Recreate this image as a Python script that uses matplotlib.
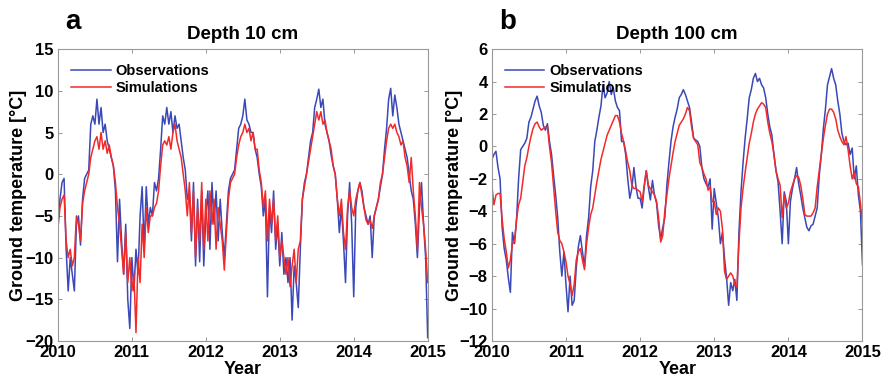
import numpy as np
import matplotlib
matplotlib.use("Agg")
import matplotlib.pyplot as plt

plt.rcParams['font.family'] = ['Liberation Sans', 'DejaVu Sans']
plt.rcParams['font.weight'] = 'bold'

years = [2010, 2011, 2012, 2013, 2014]

# depth 10 cm, ~10-day samples
obs10 = [
    [-6, -3, -1, -0.5, -9, -14, -10, -12, -14, -6, -5, -8.5, -3, -0.5, 0, 0.5, 6, 7,
     6, 9, 6, 8, 5, 6, 4, 3, 2, 1, -2, -10.5, -3, -8, -12, -6, -15, -18.5],
    [-10, -14, -9, -12, -5, -1.5, -9, -1.5, -6, -4, -5, -1, -2, -0.5, 3, 7, 6, 8,
     6, 7.5, 5, 7, 5.5, 6, 4, 2, 0.5, -3, -2, -8, -1, -11, -3, -10.5, -2, -11],
    [-5, -2, -9, -1, -6, -2, -8, -3, -7, -10, -6, -2, -0.5, 0, 0.5, 3, 5.5, 6,
     7, 9, 6.5, 6, 5, 5, 3, 2, 0, -1.5, -5, -3, -14.7, -4, -7, -2, -9, -6],
    [-11, -7, -12, -10, -13, -10, -17.5, -11, -13, -16, -9, -3, -1, 0, 2, 4, 5, 8,
     9, 10.2, 8, 9, 6, 5, 4, 2.3, 1, 0, -3, -7, -4, -8, -13, -5, -1, -6],
    [-14.7, -4, -2, -1, -2, -4, -5, -6, -5, -10, -5, -4, -3, -1.5, 0, 3, 5.5, 9,
     10.3, 7, 9.5, 8, 6, 5, 4, 3, 2, 0, -2, -3, -6, -10, -4, -1, -6, -10],
]
obs10_end = -19.6
sim10 = [
    [-6.5, -4, -3, -2.5, -8, -10, -9, -11, -10, -5, -6, -8, -3.5, -2, -1, 0, 2, 3,
     4, 4.5, 3, 5, 3, 4, 2.5, 3.5, 2, 1, -1, -4, -6, -9, -12, -7, -13, -10],
    [-14, -12, -19, -10, -13, -6, -10, -4, -7, -5, -5, -4, -3.5, -2, 1, 3.5, 4, 3.5,
     4.5, 3, 5, 6, 4, 3, 2, 0, -2, -5, -1, -7, -2, -10, -4, -8, -1, -9],
    [-3, -8, -2, -6, -3, -9, -4, -6, -8, -11.5, -7, -3, -1, -0.5, 0, 2, 3.5, 4.5,
     5, 6, 5, 5.5, 4, 5, 3, 3, 0.5, -1, -4, -2, -8, -3, -6, -3, -8, -5],
    [-10, -8, -10, -12, -10, -13.5, -11, -9, -13, -9, -8, -3, -1.5, 0, 1.5, 3, 4.5, 6,
     7.5, 6.5, 7.5, 6, 6.5, 5, 4, 3, 1, 0, -3, -5, -3, -7, -9, -4, -2, -4],
    [-5, -3, -2, -1, -2.5, -4, -5.5, -6, -5.5, -6.5, -5, -4, -3, -1, 0, 2, 4, 5.5,
     6, 5.5, 6, 5, 4.5, 3.5, 4, 2, 1, -1, 2, -2, -5, -9, -1, -4, -6, -9],
]
sim10_end = -13

# depth 100 cm
obs100 = [
    [-0.8, -0.5, -0.3, -1.3, -2, -5, -6.3, -7, -8.1, -9, -5.3, -6, -4.5, -2, -0.2, 0, 0.2, 0.5,
     1.5, 1.8, 2.3, 2.8, 3.1, 2.5, 2.1, 1.3, 1, 1.4, 0.3, -0.5, -1.8, -3, -4.4, -6.5, -8, -6.5],
    [-8.5, -10.2, -8, -9.8, -9.5, -7.5, -6.2, -5.5, -6.5, -7.4, -5.5, -4.4, -2.5, -1.5, 0.3, 1, 1.8, 2.5,
     3.8, 3, 3.3, 4, 3.2, 3.6, 2.8, 2.4, 2.2, 0.3, 0.3, -0.5, -2, -3.2, -2.6, -1.3, -2.5, -3.2],
    [-3.2, -3.8, -2.5, -1.5, -2.5, -3.3, -2.1, -3, -3.5, -4.9, -5.7, -5, -4.4, -2.4, -1, 0.3, 1.2, 1.8,
     2.3, 3, 3.2, 3.5, 3.2, 2.8, 2.4, 1.5, 0.5, 0.4, 0.3, 0, -1.3, -2, -2.3, -2.5, -2, -5.1],
    [-2.6, -3.5, -4.4, -6, -5.3, -6.9, -8.1, -9.8, -8.4, -8.9, -8.2, -9.5, -5.3, -2.8, -1, 0.5, 1.7, 3,
     3.5, 4.2, 4.5, 4, 4.2, 3.8, 3.6, 3, 2, 1.2, 0.7, -0.5, -1.5, -2.2, -4, -6, -2.8, -3.4],
    [-6, -3.4, -2.6, -2, -1.3, -2.3, -3, -3.8, -4.4, -5, -5.2, -4.9, -4.8, -4.3, -3.8, -1.8, -0.5, 1.1,
     2.3, 3.8, 4.3, 4.8, 4.2, 3.8, 2.8, 2, 0.8, 0.3, 0.1, 0.2, -0.5, -0.1, -2, -1.2, -3, -4],
]
obs100_end = -7.3
sim100 = [
    [-2.4, -3.6, -3, -2.9, -2.9, -4.5, -5.7, -6.5, -7.5, -7, -6, -5.9, -4.5, -3.6, -3.2, -2.2, -1.2, -0.7,
     0, 0.6, 1.1, 1.4, 1.5, 1.2, 1, 1.1, 1.2, 1.2, 0, -1, -2.5, -4, -5.3, -5.8, -6, -6.5],
    [-7.1, -8, -8.5, -9.2, -8.5, -7, -6.5, -6.3, -7, -7.6, -6, -5, -4.2, -3.8, -3, -2.2, -1.5, -0.8,
     -0.3, 0.2, 0.7, 1, 1.3, 1.6, 1.9, 1.9, 1.5, 0.8, 0.3, -0.3, -1, -1.5, -2.4, -2.6, -2.6, -2.7],
    [-2.8, -3.4, -2.4, -1.5, -2.4, -2.6, -2.8, -3, -3.4, -4.4, -5.9, -5.5, -4, -3, -2, -1.2, -0.4, 0.3,
     0.8, 1.3, 1.5, 1.7, 2, 2.4, 2.2, 1.2, 0.5, 0.3, 0.1, -1, -1.3, -1.7, -2, -2.7, -2.5, -3.4],
    [-3.4, -4.2, -3.8, -4, -5.1, -7.7, -8.2, -8, -7.8, -8, -8.5, -8.7, -6, -3.8, -2.6, -1.6, -0.7, 0.2,
     0.8, 1.5, 2, 2.3, 2.5, 2.7, 2.6, 2.4, 1.5, 0.8, 0.3, -0.5, -1.5, -2, -2.4, -4.4, -3, -3.8],
    [-3.5, -2.8, -2.4, -2, -1.8, -1.9, -2.4, -3.2, -4.2, -4.3, -4.3, -4.3, -4.1, -3.8, -2.5, -1.5, -0.5, 0.5,
     1.3, 2, 2.3, 2.3, 2.1, 1.7, 1, 0.6, 0.3, 0.1, 0.6, -0.2, -1.2, -2, -1.6, -2.3, -2.5, -3.5],
]
sim100_end = -4.8


def series(blocks, end):
    t, v = [], []
    for yr, vals in zip(years, blocks):
        t.extend(yr + np.arange(len(vals)) / len(vals))
        v.extend(vals)
    t.append(2015.0)
    v.append(end)
    return np.array(t), np.array(v)


blue = '#3a48b8'
red = '#f22a2a'

fig = plt.figure(figsize=(8.91, 3.78), dpi=100)
ax1 = fig.add_axes([0.065, 0.098, 0.415, 0.772])
ax2 = fig.add_axes([0.552, 0.098, 0.416, 0.772])

panels = [
    (ax1, obs10, obs10_end, sim10, sim10_end, 'Depth 10 cm', (-20, 15), np.arange(-20, 16, 5), 'a'),
    (ax2, obs100, obs100_end, sim100, sim100_end, 'Depth 100 cm', (-12, 6), np.arange(-12, 7, 2), 'b'),
]

for ax, ob, obe, sm, sme, title, ylim, yt, letter in panels:
    to, vo = series(ob, obe)
    ts, vs = series(sm, sme)
    ax.plot(to, vo, color=blue, lw=1.1, label='Observations')
    ax.plot(ts, vs, color=red, lw=1.1, label='Simulations')
    ax.set_xlim(2010, 2015)
    ax.set_ylim(*ylim)
    ax.set_xticks(range(2010, 2016))
    ax.set_yticks(yt)
    ax.tick_params(direction='in', top=True, right=True, length=3, width=0.6,
                   color='#888888', labelsize=12, pad=3)
    for lab in ax.get_xticklabels() + ax.get_yticklabels():
        lab.set_fontweight('bold')
    for s in ax.spines.values():
        s.set_color('#999999')
        s.set_linewidth(0.8)
    ax.set_title(title, fontsize=13.5, fontweight='bold', pad=7)
    ax.set_xlabel('Year', fontsize=13, fontweight='bold')
    ax.xaxis.set_label_coords(0.5, -0.068)
    ax.set_ylabel('Ground temperature [°C]', fontsize=13, fontweight='bold')
    leg = ax.legend(loc='upper left', frameon=False, fontsize=10.5, handlelength=2.7,
                    handletextpad=0.35, labelspacing=0.2, borderaxespad=0.0,
                    bbox_to_anchor=(0.02, 0.97))
    for txt in leg.get_texts():
        txt.set_fontweight('bold')
    ax.text(0.02, 1.05, letter, transform=ax.transAxes, fontsize=20, fontweight='bold',
            ha='left', va='bottom')

ax1.yaxis.set_label_coords(-0.084, 0.5)
ax2.yaxis.set_label_coords(-0.078, 0.5)

fig.savefig('out.png', dpi=100)
